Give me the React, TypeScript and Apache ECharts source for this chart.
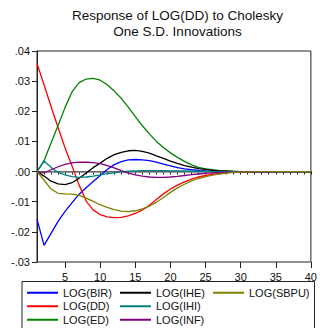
import React, { useEffect, useRef } from "react";
import * as echarts from "echarts";

// Impulse-response periods 1..40
const periods: string[] = Array.from({ length: 40 }, (_, i) => String(i + 1));

const titleLines = ["Response of LOG(DD) to Cholesky", "One S.D. Innovations"];

const seriesNames = ["LOG(BIR)", "LOG(DD)", "LOG(ED)", "LOG(IHE)", "LOG(IHI)", "LOG(INF)", "LOG(SBPU)"];
const seriesColors = ["#0000ff", "#ff0000", "#008000", "#000000", "#008080", "#800080", "#808000"];

const bir = [
  -0.0158, -0.0245, -0.0205, -0.0165, -0.0132, -0.0103, -0.0075, -0.0054, -0.0033, -0.0013,
  0.0007, 0.0023, 0.0033, 0.0039, 0.0040, 0.0039, 0.0036, 0.0031, 0.0025, 0.0019,
  0.0013, 0.0009, 0.0006, 0.0004, 0.0002, 0.0001, 0.0001, 0, 0, 0,
  0, 0, 0, 0, 0, 0, 0, 0, 0, 0,
];
const dd = [
  0.0359, 0.0288, 0.0216, 0.0146, 0.0078, 0.0018, -0.0045, -0.0098, -0.0127, -0.0143,
  -0.0150, -0.0153, -0.0152, -0.0147, -0.0139, -0.0127, -0.0112, -0.0093, -0.0074, -0.0058,
  -0.0045, -0.0034, -0.0025, -0.0018, -0.0013, -0.0009, -0.0006, -0.0003, -0.0002, -0.0001,
  0, 0, 0, 0, 0, 0, 0, 0, 0, 0,
];
const ed = [
  0, 0.0036, 0.0095, 0.0153, 0.0213, 0.0265, 0.0295, 0.0307, 0.0309, 0.0303,
  0.0288, 0.0267, 0.0243, 0.0214, 0.0182, 0.0152, 0.0125, 0.0100, 0.0080, 0.0062,
  0.0047, 0.0034, 0.0022, 0.0014, 0.0009, 0.0006, 0.0003, 0.0002, 0.0001, 0,
  0, 0, 0, 0, 0, 0, 0, 0, 0, 0,
];
const ihe = [
  0, -0.0015, -0.0032, -0.0041, -0.0043, -0.0037, -0.0022, -0.0005, 0.0013, 0.0028,
  0.0044, 0.0056, 0.0064, 0.0069, 0.0070, 0.0067, 0.0061, 0.0052, 0.0044, 0.0035,
  0.0027, 0.0020, 0.0015, 0.0010, 0.0007, 0.0004, 0.0002, 0.0001, 0, 0,
  0, 0, 0, 0, 0, 0, 0, 0, 0, 0,
];
const ihi = [
  0, 0.0035, 0.0014, -0.0003, -0.0011, -0.0017, -0.0019, -0.0018, -0.0015, -0.0011,
  -0.0007, -0.0004, -0.0001, 0.0001, 0.0002, 0.0003, 0.0003, 0.0003, 0.0003, 0.0002,
  0.0002, 0.0002, 0.0001, 0.0001, 0.0001, 0, 0, 0, 0, 0,
  0, 0, 0, 0, 0, 0, 0, 0, 0, 0,
];
const inf = [
  0, -0.0004, 0.0006, 0.0016, 0.0024, 0.0029, 0.0031, 0.0031, 0.0030, 0.0026,
  0.0020, 0.0012, 0.0003, -0.0005, -0.0011, -0.0015, -0.0018, -0.0019, -0.0019, -0.0018,
  -0.0016, -0.0013, -0.0010, -0.0008, -0.0006, -0.0004, -0.0003, -0.0002, -0.0002, -0.0001,
  -0.0001, -0.0001, -0.0001, -0.0001, 0, 0, 0, 0, 0, 0,
];
const sbpu = [
  0, -0.0028, -0.0058, -0.0072, -0.0074, -0.0075, -0.0079, -0.0088, -0.0099, -0.0110,
  -0.0119, -0.0126, -0.0131, -0.0133, -0.0130, -0.0124, -0.0115, -0.0102, -0.0086, -0.0069,
  -0.0054, -0.0042, -0.0031, -0.0023, -0.0017, -0.0012, -0.0008, -0.0005, -0.0003, -0.0002,
  -0.0001, 0, 0, 0, 0, 0, 0, 0, 0, 0,
];
const seriesValues = [bir, dd, ed, ihe, ihi, inf, sbpu];

// Legend columns (names listed top to bottom)
const legendColumns = [
  ["LOG(BIR)", "LOG(DD)", "LOG(ED)"],
  ["LOG(IHE)", "LOG(IHI)", "LOG(INF)"],
  ["LOG(SBPU)"],
];
const legendColumnLeft = [27, 120, 213];

const FONT = "'Liberation Sans', Arial, sans-serif";

function fmtY(v: number): string {
  const s = Math.abs(v).toFixed(2).replace(/^0/, "");
  return (v < -1e-9 ? "-" : "") + s;
}

export default function App() {
  const ref = useRef<HTMLDivElement>(null);

  useEffect(() => {
    if (!ref.current) return;
    document.body.style.margin = "0";
    document.body.style.overflow = "hidden";
    const chart = echarts.init(ref.current, undefined, { renderer: "svg" });

    const series: any[] = seriesNames.map((name, i) => ({
      name,
      type: "line",
      data: seriesValues[i],
      xAxisIndex: 0,
      showSymbol: false,
      symbol: "none",
      lineStyle: { color: seriesColors[i], width: 1.3 },
      itemStyle: { color: seriesColors[i] },
      z: 3,
      ...(i === 0
        ? {
            markLine: {
              silent: true,
              symbol: "none",
              label: { show: false },
              lineStyle: { color: "#808080", width: 1.5, type: "solid" },
              data: [{ yAxis: 0 }],
              z: 2,
            },
          }
        : {}),
    }));

    chart.setOption({
      animation: false,
      grid: {
        left: 37,
        top: 51,
        right: 2.5,
        bottom: 66,
        show: true,
        borderColor: "#222",
        borderWidth: 1,
        backgroundColor: "transparent",
      },
      xAxis: [
        {
          type: "category",
          data: periods,
          boundaryGap: false,
          position: "bottom",
          axisLine: { lineStyle: { color: "#222", width: 1 } },
          axisTick: { show: true, interval: 0, length: 3, lineStyle: { color: "#222" } },
          axisLabel: {
            interval: (_i: number, v: string) => Number(v) % 5 === 0,
            margin: 9,
            color: "#111",
            fontFamily: FONT,
            fontSize: 11,
          },
          splitLine: { show: false },
        },
        {
          type: "category",
          data: periods,
          boundaryGap: false,
          position: "bottom",
          axisLine: { show: false },
          axisTick: {
            show: true,
            interval: (_i: number, v: string) => Number(v) % 5 === 0,
            length: 6,
            lineStyle: { color: "#222" },
          },
          axisLabel: { show: false },
          splitLine: { show: false },
        },
      ],
      yAxis: {
        type: "value",
        min: -0.03,
        max: 0.04,
        interval: 0.01,
        axisLine: { show: true, lineStyle: { color: "#222", width: 1 } },
        axisTick: { show: true, length: 5, lineStyle: { color: "#222" } },
        axisLabel: {
          formatter: fmtY,
          margin: 7,
          color: "#111",
          fontFamily: FONT,
          fontSize: 11,
        },
        splitLine: { show: false },
      },
      legend: legendColumns.map((names, c) => ({
        show: true,
        orient: "vertical",
        left: legendColumnLeft[c],
        top: 286,
        padding: 0,
        itemGap: 0,
        itemWidth: 31,
        itemHeight: 2,
        icon: "rect",
        selectedMode: false,
        data: names,
        textStyle: { fontFamily: FONT, fontSize: 11, color: "#111", lineHeight: 13.5 },
      })),
      graphic: [
        {
          type: "text",
          x: 177.5,
          y: 7,
          style: {
            text: titleLines.join("\n"),
            textAlign: "center",
            fontFamily: FONT,
            fontSize: 13.5,
            lineHeight: 16,
            fill: "#111",
          },
        },
        {
          type: "rect",
          shape: { x: 22, y: 281.5, width: 292.5, height: 60 },
          style: { fill: "none", stroke: "#222", lineWidth: 1 },
          silent: true,
        },
      ],
      series,
    });

    return () => chart.dispose();
  }, []);

  return <div ref={ref} style={{ width: 320, height: 328 }} />;
}
